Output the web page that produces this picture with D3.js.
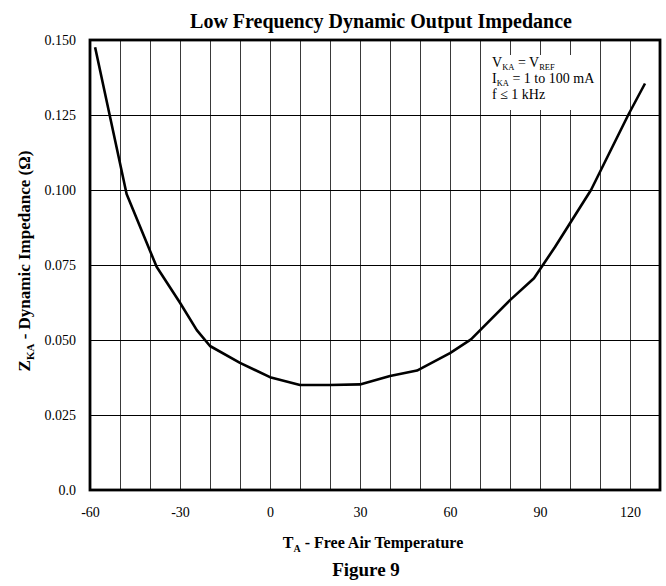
<!DOCTYPE html>
<html>
<head>
<meta charset="utf-8">
<script src="https://cdn.jsdelivr.net/npm/d3@7"></script>
<style>
  html, body { margin: 0; padding: 0; background: #fff; }
  svg { display: block; font-family: "Liberation Serif", "Times New Roman", serif; }
</style>
</head>
<body>
<svg id="chart" width="666" height="586"></svg>
<script>
// ---- data ----
const temperature = [-58.3, -47.8, -37.8, -30, -24.4, -20, -10, 0, 10, 20, 30, 40, 49, 60, 67, 80, 88, 95, 107, 119.4, 125];
const impedance   = [0.1476, 0.0987, 0.0744, 0.0624, 0.0533, 0.048, 0.0424, 0.0376, 0.035, 0.035, 0.0352, 0.038, 0.0398, 0.0456, 0.0502, 0.0633, 0.0706, 0.081, 0.100, 0.125, 0.1355];
const xTickValues = [-60, -30, 0, 30, 60, 90, 120];
const yTickValues = [0, 0.025, 0.05, 0.075, 0.1, 0.125, 0.15];
const yTickLabels = ["0.0", "0.025", "0.050", "0.075", "0.100", "0.125", "0.150"];
const xGridValues = [-50, -40, -30, -20, -10, 0, 10, 20, 30, 40, 50, 60, 70, 80, 90, 100, 110, 120];
const yGridValues = [0.025, 0.05, 0.075, 0.1, 0.125];

const svg = d3.select("#chart");
const L = 90, R = 660, T = 40, B = 490;
const x = d3.scaleLinear().domain([-60, 130]).range([L, R]);
const y = d3.scaleLinear().domain([0, 0.15]).range([B, T]);

// vertical grid
svg.append("g").attr("transform", `translate(0,${B})`)
  .call(d3.axisBottom(x).tickValues(xGridValues).tickSize(-(B - T)).tickFormat(""))
  .call(g => g.select(".domain").remove())
  .call(g => g.selectAll("line").attr("stroke", "#3a3a3a").attr("stroke-width", 1));

// horizontal grid
svg.append("g").attr("transform", `translate(${L},0)`)
  .call(d3.axisLeft(y).tickValues(yGridValues).tickSize(-(R - L)).tickFormat(""))
  .call(g => g.select(".domain").remove())
  .call(g => g.selectAll("line").attr("stroke", "#000").attr("stroke-width", 1));

// annotation box (white background) + text as a single text element
svg.append("rect").attr("x", 488).attr("y", 55).attr("width", 110).attr("height", 55).attr("fill", "#fff");
const ann = svg.append("text").attr("x", 492).attr("y", 67).attr("font-size", 14).attr("fill", "#000");
ann.append("tspan").text("V");
ann.append("tspan").attr("font-size", 8.5).attr("dy", 2.5).text("KA");
ann.append("tspan").attr("dy", -2.5).text(" = V");
ann.append("tspan").attr("font-size", 8.5).attr("dy", 2.5).text("REF");
ann.append("tspan").attr("x", 492).attr("dy", 13.5).text("I");
ann.append("tspan").attr("font-size", 8.5).attr("dy", 2.5).text("KA");
ann.append("tspan").attr("dy", -2.5).text(" = 1 to 100 mA");
ann.append("tspan").attr("x", 492).attr("dy", 15.5).text("f ≤ 1 kHz");

// curve
const pts = temperature.map((t, i) => [t, impedance[i]]);
svg.append("path").datum(pts)
  .attr("fill", "none").attr("stroke", "#000").attr("stroke-width", 2.6)
  .attr("stroke-linejoin", "round")
  .attr("d", d3.line().x(d => x(d[0])).y(d => y(d[1])));

// frame
svg.append("rect").attr("x", L).attr("y", T).attr("width", R - L).attr("height", B - T)
  .attr("fill", "none").attr("stroke", "#000").attr("stroke-width", 2.8);

// x tick labels
svg.append("g").attr("transform", `translate(0,${B})`)
  .call(d3.axisBottom(x).tickValues(xTickValues).tickSize(0).tickPadding(17).tickFormat(d => String(d)))
  .call(g => g.select(".domain").remove())
  .call(g => g.selectAll("text").attr("font-family", "Liberation Serif").attr("font-size", 14).attr("fill", "#000"));

// y tick labels
svg.append("g").attr("transform", `translate(${L},0)`)
  .call(d3.axisLeft(y).tickValues(yTickValues).tickSize(0).tickPadding(14).tickFormat((d, i) => yTickLabels[i]))
  .call(g => g.select(".domain").remove())
  .call(g => g.selectAll("text").attr("font-family", "Liberation Serif").attr("font-size", 14).attr("fill", "#000"));

// title
svg.append("text").attr("x", 381).attr("y", 28).attr("text-anchor", "middle")
  .attr("font-weight", "bold").attr("font-size", 20).text("Low Frequency Dynamic Output Impedance");

// x axis title
const xt = svg.append("text").attr("x", 373).attr("y", 548).attr("text-anchor", "middle")
  .attr("font-weight", "bold").attr("font-size", 16);
xt.append("tspan").text("T");
xt.append("tspan").attr("font-size", 10).attr("dy", 4).text("A");
xt.append("tspan").attr("dy", -4).text(" - Free Air Temperature");

// figure label
svg.append("text").attr("x", 366).attr("y", 576).attr("text-anchor", "middle")
  .attr("font-weight", "bold").attr("font-size", 19).text("Figure 9");

// y axis title
const yt = svg.append("text").attr("transform", "translate(30,261) rotate(-90)")
  .attr("text-anchor", "middle").attr("font-weight", "bold").attr("font-size", 17);
yt.append("tspan").text("Z");
yt.append("tspan").attr("font-size", 11).attr("dy", 4).text("KA");
yt.append("tspan").attr("dy", -4).text(" - Dynamic Impedance (Ω)");
</script>
</body>
</html>
